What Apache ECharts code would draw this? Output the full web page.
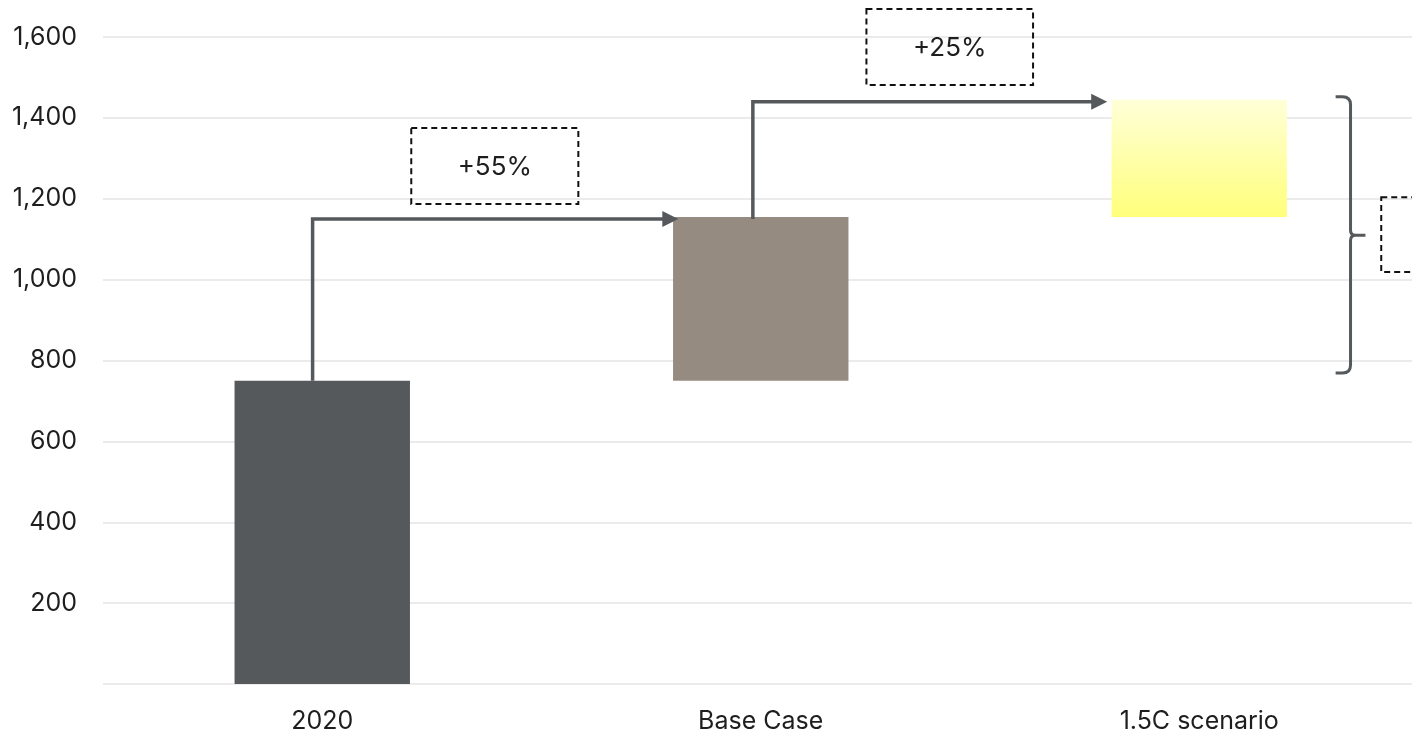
<!DOCTYPE html>
<html><head><meta charset="utf-8">
<script src="https://cdn.jsdelivr.net/npm/echarts@6/dist/echarts.min.js"></script>
<style>html,body{margin:0;padding:0;background:#fff}#c{width:1412px;height:733px}</style>
</head><body><div id="c"></div>
<script>
// ---- data ----
const categories = ['2020', 'Base Case', '1.5C scenario'];
const barStart = [0, 750, 1155];
const barEnd = [750, 1155, 1445];
const yTickLabels = ['', '200', '400', '600', '800', '1,000', '1,200', '1,400', '1,600'];
// arrows (x in category units on a hidden value axis)
const arrowX = [-0.022, 0.982];
const arrowFrom = [750, 1150];
const arrowLevel = [1150, 1440];
const arrowTipX = [0.812, 1.790];
// dashed annotation boxes
const boxX0 = [0.203, 1.241, 2.415];
const boxX1 = [0.584, 1.621, 2.796];
const boxY0 = [1187, 1481, 1019];
const boxY1 = [1375, 1669, 1204];
const boxLabels = ['+55%', '+25%', ''];
// bracket
const bracketX = [2.311, 2.345, 2.379];   // hook end, spine, tip
const bracketY = [1452, 1110, 769];       // top, middle, bottom

// ---- style ----
const FONT = 'Inter';
const DARK = '#55595c';
const barColors = [
  DARK,
  '#968b81',
  new echarts.graphic.LinearGradient(0, 0, 0, 1, [
    { offset: 0, color: '#ffffd8' },
    { offset: 1, color: '#ffff7c' }
  ])
];

const chart = echarts.init(document.getElementById('c'));
chart.setOption({
  animation: false,
  textStyle: { fontFamily: FONT },
  grid: { left: 103, top: 37, height: 647, width: 1315.5, containLabel: false, outerBoundsMode: 'none' },
  xAxis: [
    {
      type: 'category', data: categories,
      axisLine: { show: false }, axisTick: { show: false },
      axisLabel: { color: '#1e1e1e', fontSize: 25, margin: 25, fontFamily: FONT }
    },
    { type: 'value', min: -0.5, max: 2.5, show: false }
  ],
  yAxis: {
    type: 'value', min: 0, max: 1600, interval: 200,
    axisLine: { show: false }, axisTick: { show: false },
    splitLine: { lineStyle: { color: '#e4e4e4', width: 1.5 } },
    axisLabel: {
      color: '#1e1e1e', fontSize: 25, margin: 26, fontFamily: FONT,
      formatter: (v) => yTickLabels[Math.round(v / 200)]
    }
  },
  series: [
    {
      type: 'custom', xAxisIndex: 0, yAxisIndex: 0,
      data: categories.map((c, i) => [i, barStart[i], barEnd[i]]),
      encode: { x: 0, y: [1, 2] },
      renderItem: (params, api) => {
        const i = api.value(0);
        const top = api.coord([i, api.value(2)]);
        const bot = api.coord([i, api.value(1)]);
        const w = api.size([1, 0])[0] * 0.4;
        return {
          type: 'rect',
          shape: { x: top[0] - w / 2, y: top[1], width: w, height: bot[1] - top[1] },
          style: { fill: barColors[i] }
        };
      }
    },
    {
      type: 'custom', xAxisIndex: 1, yAxisIndex: 0, z: 5,
      data: arrowX.map((x, i) => [x, arrowFrom[i], arrowLevel[i], arrowTipX[i]]),
      encode: { x: [0, 3], y: [1, 2] },
      renderItem: (params, api) => {
        const p0 = api.coord([api.value(0), api.value(1)]);
        const p1 = api.coord([api.value(0), api.value(2)]);
        const p2 = api.coord([api.value(3), api.value(2)]);
        const hl = 16, hw = 8;
        return {
          type: 'group',
          children: [
            {
              type: 'polyline',
              shape: { points: [p0, p1, [p2[0] - hl + 1, p2[1]]] },
              style: { stroke: DARK, lineWidth: 3.5, fill: null, lineJoin: 'miter' }
            },
            {
              type: 'polygon',
              shape: { points: [[p2[0], p2[1]], [p2[0] - hl, p2[1] - hw], [p2[0] - hl, p2[1] + hw]] },
              style: { fill: DARK }
            }
          ]
        };
      }
    },
    {
      type: 'custom', xAxisIndex: 1, yAxisIndex: 0, z: 5,
      data: boxX0.map((x, i) => [x, boxY0[i], boxX1[i], boxY1[i], i]),
      encode: { x: [0, 2], y: [1, 3] },
      renderItem: (params, api) => {
        const a = api.coord([api.value(0), api.value(3)]);
        const b = api.coord([api.value(2), api.value(1)]);
        const i = api.value(4);
        return {
          type: 'group',
          children: [
            {
              type: 'rect',
              shape: { x: a[0], y: a[1], width: b[0] - a[0], height: b[1] - a[1] },
              style: { fill: 'rgba(255,255,255,0)', stroke: '#111111', lineWidth: 2, lineDash: [6, 4] }
            },
            {
              type: 'text',
              style: {
                x: (a[0] + b[0]) / 2, y: (a[1] + b[1]) / 2 + 1,
                text: boxLabels[i], fill: '#1e1e1e', font: '26px ' + FONT,
                align: 'center', verticalAlign: 'middle'
              }
            }
          ]
        };
      }
    },
    {
      type: 'custom', xAxisIndex: 1, yAxisIndex: 0, z: 5,
      data: [[bracketX[0], bracketY[0], bracketX[1], bracketY[1], bracketX[2], bracketY[2]]],
      encode: { x: [0, 2, 4], y: [1, 3, 5] },
      renderItem: (params, api) => {
        const top = api.coord([api.value(0), api.value(1)]);
        const mid = api.coord([api.value(4), api.value(3)]);
        const bot = api.coord([api.value(0), api.value(5)]);
        const sx = api.coord([api.value(2), api.value(3)])[0];
        const hx = top[0], tx = mid[0];
        const ty = top[1], my = mid[1], by = bot[1];
        const r = 8, r2 = 5;
        const d = `M${hx},${ty} L${sx - r},${ty} Q${sx},${ty} ${sx},${ty + r} ` +
          `L${sx},${my - r2} Q${sx},${my} ${sx + r2},${my} L${tx},${my} ` +
          `M${sx + r2},${my} Q${sx},${my} ${sx},${my + r2} ` +
          `L${sx},${by - r} Q${sx},${by} ${sx - r},${by} L${hx},${by}`;
        return {
          type: 'path',
          shape: { pathData: d },
          style: { stroke: DARK, lineWidth: 3, fill: null }
        };
      }
    }
  ]
});
</script>
</body></html>
